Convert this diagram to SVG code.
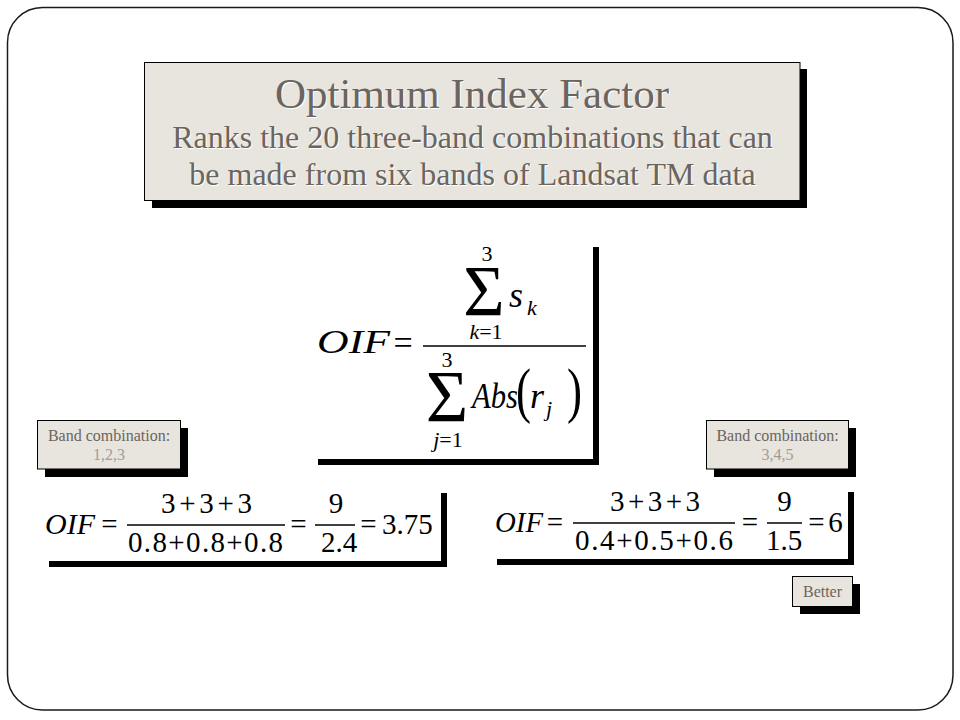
<svg xmlns="http://www.w3.org/2000/svg" width="960" height="720" viewBox="0 0 960 720" font-family="Liberation Serif, Tinos, Times New Roman, Times, Nimbus Roman, FreeSerif, DejaVu Serif, serif">
<style>
.frame{fill:#fff;stroke:#1a1a1a;stroke-width:1.5}
.box{fill:#e8e4de;stroke:#000;stroke-width:1}
.shadow{fill:#000}
.img{fill:#fff}
.t{fill:#6b6560;text-anchor:middle}
.hl{fill:#fff}
.lt{fill:#a29c95}
.m{fill:#000}
.i{font-style:italic}
.c{text-anchor:middle}
.bar{stroke:#000;stroke-width:1.4}
</style>
<rect class="frame" x="7.5" y="7.5" width="945.5" height="702.5" rx="35" ry="35"/>

<g id="title" font-family="Liberation Serif, Tinos, Times New Roman, Times, Nimbus Roman, FreeSerif, DejaVu Serif, serif">
  <rect class="shadow" x="152" y="69" width="655" height="139"/>
  <rect class="box" x="144.5" y="62.5" width="655.5" height="138"/>
  <g class="t">
    <text class="hl" x="473" y="109" font-size="43">Optimum Index Factor</text>
    <text x="472" y="108" font-size="43">Optimum Index Factor</text>
    <text class="hl" x="473.5" y="149" font-size="32">Ranks the 20 three-band combinations that can</text>
    <text x="472.5" y="148" font-size="32">Ranks the 20 three-band combinations that can</text>
    <text class="hl" x="473.5" y="186" font-size="32">be made from six bands of Landsat TM data</text>
    <text x="472.5" y="185" font-size="32">be made from six bands of Landsat TM data</text>
  </g>
</g>

<g id="formula-main">
  <rect class="shadow" x="318" y="247" width="281" height="218"/>
  <rect class="img" x="312" y="241" width="281" height="218"/>
  <g class="m">
    <text class="i" x="317" y="353" font-size="34" textLength="73" lengthAdjust="spacingAndGlyphs">OIF</text>
    <text class="c" x="403" y="354" font-size="34">=</text>
    <line class="bar" x1="423" y1="346" x2="586" y2="346"/>
    <text class="c" x="487" y="261" font-size="22">3</text>
    <text class="c" x="484" y="315" font-size="71">Σ</text>
    <text class="c" x="486" y="339" font-size="22"><tspan class="i">k</tspan>=1</text>
    <text class="i" x="509" y="307" font-size="36">s</text>
    <text class="i" x="527" y="315" font-size="22">k</text>
    <text class="c" x="447" y="367" font-size="22">3</text>
    <text class="c" x="447" y="422" font-size="73">Σ</text>
    <text class="c" x="448" y="447" font-size="22"><tspan class="i">j</tspan>=1</text>
    <text class="i" x="472" y="408" font-size="36" textLength="46" lengthAdjust="spacingAndGlyphs">Abs</text>
    <text x="516" y="411" font-size="62" textLength="15" lengthAdjust="spacingAndGlyphs">(</text>
    <text class="i" x="530" y="408" font-size="36">r</text>
    <text class="i" x="546" y="416" font-size="22">j</text>
    <text x="567" y="411" font-size="62" textLength="15" lengthAdjust="spacingAndGlyphs">)</text>
  </g>
</g>

<g id="band-123">
  <rect class="shadow" x="45" y="428" width="143" height="49"/>
  <rect class="box" x="37.5" y="420.5" width="143" height="48.5"/>
  <text class="t" x="109" y="441" font-size="16">Band combination:</text>
  <text class="t lt" x="109" y="460" font-size="16">1,2,3</text>
</g>

<g id="band-345">
  <rect class="shadow" x="714" y="428" width="142" height="49"/>
  <rect class="box" x="706.5" y="420.5" width="142" height="48.5"/>
  <text class="t" x="777.5" y="441" font-size="16">Band combination:</text>
  <text class="t lt" x="777.5" y="460" font-size="16">3,4,5</text>
</g>

<g id="formula-123">
  <rect class="shadow" x="49" y="493" width="398" height="74"/>
  <rect class="img" x="43" y="487" width="398" height="74"/>
  <g class="m" font-size="29">
    <text class="i" x="45" y="534" textLength="50" lengthAdjust="spacingAndGlyphs">OIF</text>
    <text class="c" x="109.5" y="534">=</text>
    <line class="bar" x1="127" y1="525" x2="285" y2="525"/>
    <text class="c" x="206.5" y="513" textLength="91" lengthAdjust="spacing">3+3+3</text>
    <text class="c" x="205.5" y="552" textLength="155" lengthAdjust="spacing">0.8+0.8+0.8</text>
    <text class="c" x="298.5" y="534">=</text>
    <line class="bar" x1="315" y1="525" x2="355" y2="525"/>
    <text class="c" x="336" y="513">9</text>
    <text class="c" x="339" y="552">2.4</text>
    <text class="c" x="368.5" y="534">=</text>
    <text x="382" y="534">3.75</text>
  </g>
</g>

<g id="formula-345">
  <rect class="shadow" x="497" y="492" width="357" height="73"/>
  <rect class="img" x="491" y="486" width="357" height="73"/>
  <g class="m" font-size="29">
    <text class="i" x="495" y="532" textLength="48" lengthAdjust="spacingAndGlyphs">OIF</text>
    <text class="c" x="555" y="532">=</text>
    <line class="bar" x1="573" y1="523" x2="735" y2="523"/>
    <text class="c" x="655" y="511" textLength="90" lengthAdjust="spacing">3+3+3</text>
    <text class="c" x="654" y="550" textLength="158" lengthAdjust="spacing">0.4+0.5+0.6</text>
    <text class="c" x="750" y="532">=</text>
    <line class="bar" x1="767" y1="523" x2="802" y2="523"/>
    <text class="c" x="784.5" y="511">9</text>
    <text class="c" x="784" y="550">1.5</text>
    <text class="c" x="816.5" y="532">=</text>
    <text class="c" x="835.5" y="532">6</text>
  </g>
</g>

<g id="better">
  <rect class="shadow" x="800" y="584" width="60" height="30"/>
  <rect class="box" x="792.5" y="576.5" width="60" height="30"/>
  <text class="t" x="822.5" y="597" font-size="16">Better</text>
</g>

<g id="connectors"/>
</svg>
